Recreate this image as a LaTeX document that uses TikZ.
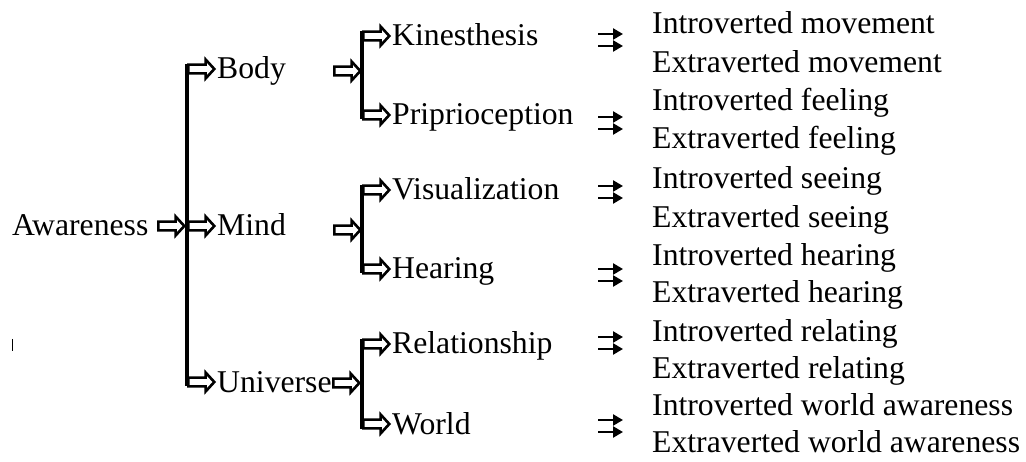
\documentclass[tikz,border=0pt]{standalone}
\usepackage{fontspec}
\setmainfont{Liberation Serif}
\usetikzlibrary{shapes.arrows,arrows.meta}
\begin{document}
\begin{tikzpicture}[x=1pt,y=-1pt,
 txt/.style={anchor=base west,inner sep=0pt,font=\fontsize{31.7}{38}\selectfont},
 harrow/.style={single arrow,draw,line width=2.6pt,inner xsep=0pt,inner ysep=3.1pt,minimum height=26pt,single arrow head extend=5pt,single arrow tip angle=95,anchor=tail},
 bar/.style={line width=4pt},
 darrow/.style={line width=2.3pt,-{Triangle[length=10pt,width=11pt]}}]
\useasboundingbox (0,0) rectangle (1026,462);
% level 0
\node[txt] (aw) at (12,236) {Awareness};
\node[harrow] (a0) at (157,226) {};
% level 1
\node[harrow] (h1) at (187,69) {};
\node[harrow] (h2) at (187,226) {};
\node[harrow] (h3) at (187,382) {};
\draw[bar] ([yshift=4.5pt]h1.tail) -- ([yshift=-4.5pt]h3.tail);
\node[txt] (body) at (217,79) {Body};
\node[txt] (mind) at (217,236) {Mind};
\node[txt] (univ) at (217,392) {Universe};
% level 1 -> 2 arrows
\node[harrow] (s1) at (333,71) {};
\node[harrow] (s2) at (333,230) {};
\node[harrow] (s3) at (332,383) {};
% level 2
\node[harrow] (k1) at (362,36) {};
\node[harrow] (k2) at (362,115) {};
\node[harrow] (k3) at (362,190) {};
\node[harrow] (k4) at (362,269) {};
\node[harrow] (k5) at (362,344) {};
\node[harrow] (k6) at (362,424) {};
\draw[bar] ([yshift=4.5pt]k1.tail) -- ([yshift=-4.5pt]k2.tail);
\draw[bar] ([yshift=4.5pt]k3.tail) -- ([yshift=-4.5pt]k4.tail);
\draw[bar] ([yshift=4.5pt]k5.tail) -- ([yshift=-4.5pt]k6.tail);
\node[txt] (kin) at (392,46) {Kinesthesis};
\node[txt] (pri) at (392,125) {Priprioception};
\node[txt] (vis) at (392,200) {Visualization};
\node[txt] (hea) at (392,279) {Hearing};
\node[txt] (rel) at (392,354) {Relationship};
\node[txt] (wor) at (392,434) {World};
% double arrows
\foreach \n/\y in {d1/40,d2/123,d3/192,d4/275,d5/343,d6/426}{
  \coordinate (\n) at (598,\y);
  \draw[darrow] ([yshift=6pt]\n) -- +(25pt,0pt);
  \draw[darrow] ([yshift=-6pt]\n) -- +(25pt,0pt);
}
% level 3
\node[txt] (r1) at (652,34) {Introverted movement};
\node[txt] (r2) at (652,73) {Extraverted movement};
\node[txt] (r3) at (652,111) {Introverted feeling};
\node[txt] (r4) at (652,149) {Extraverted feeling};
\node[txt] (r5) at (652,189) {Introverted seeing};
\node[txt] (r6) at (652,228) {Extraverted seeing};
\node[txt] (r7) at (652,266) {Introverted hearing};
\node[txt] (r8) at (652,303) {Extraverted hearing};
\node[txt] (r9) at (652,342) {Introverted relating};
\node[txt] (r10) at (652,378) {Extraverted relating};
\node[txt] (r11) at (652,415) {Introverted world awareness};
\node[txt] (r12) at (652,452) {Extraverted world awareness};
% stray mark
\draw[line width=1.2pt] (12.5,339) -- (12.5,351);
\end{tikzpicture}
\end{document}
